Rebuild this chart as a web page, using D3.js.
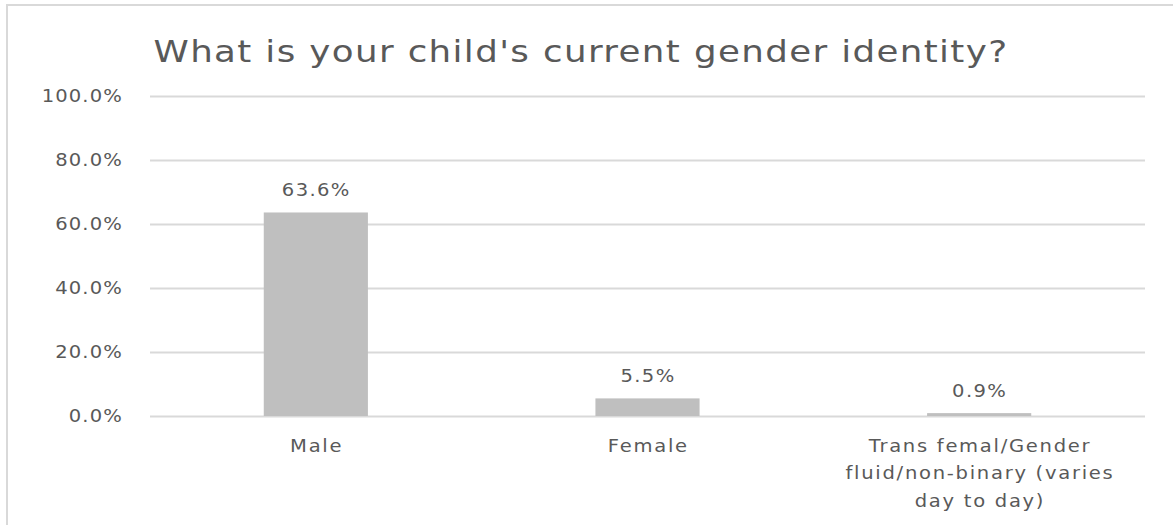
<!DOCTYPE html>
<html><head><meta charset="utf-8">
<script src="https://cdn.jsdelivr.net/npm/d3@7"></script>
<style>
body{margin:0;background:#fff;}
text{font-family:"DejaVu Sans", sans-serif;fill:#595959;}
</style></head>
<body>
<svg id="chart" width="1173" height="525"></svg>
<script>
const title = "What is your child's current gender identity?";
const categories = ["Male", "Female", "Trans femal/Gender fluid/non-binary (varies day to day)"];
const categoryLines = [["Male"], ["Female"], ["Trans femal/Gender", "fluid/non-binary (varies", "day to day)"]];
const values = [63.6, 5.5, 0.9];
const yTicks = [0, 20, 40, 60, 80, 100];

const SX = 1.15; // horizontal glyph stretch seen in the reference
const svg = d3.select("#chart");
svg.append("rect").attr("x", 7).attr("y", 5).attr("width", 1180).attr("height", 540)
  .attr("fill", "none").attr("stroke", "#d9d9d9").attr("stroke-width", 2);

const x = d3.scaleBand().domain(categories).range([150, 1145]).paddingInner(0.686).paddingOuter(0.343);
const y = d3.scaleLinear().domain([0, 100]).range([416, 96]);

function stretchedText(parent, cx, cy, anchor, size, spacing) {
  return parent.append("text")
    .attr("transform", `translate(${cx},${cy}) scale(${SX},1)`)
    .attr("text-anchor", anchor).style("font-size", size + "px")
    .style("letter-spacing", spacing + "px");
}

stretchedText(svg, 581, 62, "middle", 31, 1.2).text(title);

const yAxis = d3.axisLeft(y).tickValues(yTicks).tickSize(-(1145 - 150)).tickFormat("");
const ga = svg.append("g").attr("transform", "translate(150,0)").call(yAxis);
ga.select(".domain").remove();
ga.selectAll(".tick line").attr("stroke", "#d9d9d9").attr("stroke-width", 2);
ga.selectAll(".tick text").remove();
yTicks.forEach(v => {
  stretchedText(svg, 123, y(v) + 6, "end", 17, 1).text(d3.format(".1f")(v) + "%");
});

svg.selectAll("rect.bar").data(values).join("rect").attr("class", "bar")
  .attr("x", (d, i) => x(categories[i])).attr("width", x.bandwidth())
  .attr("y", d => y(d)).attr("height", d => y(0) - y(d)).attr("fill", "#bfbfbf");

values.forEach((v, i) => {
  stretchedText(svg, x(categories[i]) + x.bandwidth() / 2 + 0.5, y(v) - 16, "middle", 17, 1.2)
    .text(d3.format(".1f")(v) + "%");
});

categories.forEach((c, i) => {
  const cx = x(c) + x.bandwidth() / 2 + 0.8;
  const t = stretchedText(svg, cx, 452, "middle", 17, 1.5);
  categoryLines[i].forEach((l, j) => {
    t.append("tspan").attr("x", 0).attr("dy", j === 0 ? 0 : 27.5).text(l);
  });
});
</script>
</body></html>
